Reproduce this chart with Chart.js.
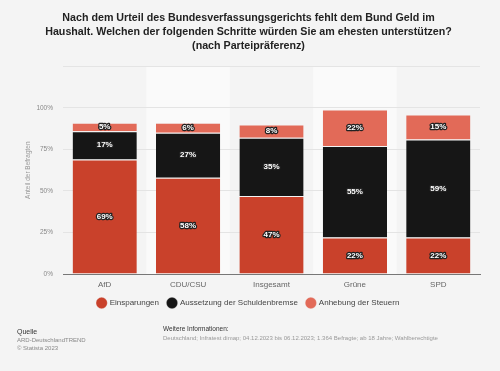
<!DOCTYPE html>
<html>
<head>
<meta charset="utf-8">
<script src="https://cdn.jsdelivr.net/npm/chart.js@4.4.0/dist/chart.umd.min.js"></script>
<style>
  html, body { margin: 0; padding: 0; background: #f4f4f4; }
  #wrap { position: relative; width: 500px; height: 371px; overflow: hidden; font-family: "Liberation Sans", Arial, sans-serif; }
  canvas { position: absolute; left: 0; top: 0; }
  .ft { position: absolute; white-space: nowrap; line-height: 1; }
</style>
</head>
<body>
<div id="wrap">
  <canvas id="c" width="500" height="371"></canvas>
  <div class="ft" style="left:17px;top:328px;font-size:7px;color:#333;">Quelle</div>
  <div class="ft" style="left:17px;top:337px;font-size:6px;color:#888;">ARD-DeutschlandTREND</div>
  <div class="ft" style="left:17px;top:345px;font-size:6px;color:#888;">© Statista 2023</div>
  <div class="ft" style="left:163px;top:326px;font-size:6.5px;color:#333;">Weitere Informationen:</div>
  <div class="ft" style="left:163px;top:335px;font-size:6px;color:#999;">Deutschland; Infratest dimap; 04.12.2023 bis 06.12.2023; 1.364 Befragte; ab 18 Jahre; Wahlberechtigte</div>
</div>
<script>
const categories = ["AfD", "CDU/CSU", "Insgesamt", "Grüne", "SPD"];
const einsparungen = [69, 58, 47, 22, 22];
const aussetzung = [17, 27, 35, 55, 59];
const anhebung = [5, 6, 8, 22, 15];
const seriesNames = ["Einsparungen", "Aussetzung der Schuldenbremse", "Anhebung der Steuern"];
const yTicks = [0, 25, 50, 75, 100];
const titleLines = [
  "Nach dem Urteil des Bundesverfassungsgerichts fehlt dem Bund Geld im",
  "Haushalt. Welchen der folgenden Schritte würden Sie am ehesten unterstützen?",
  "(nach Parteipräferenz)"
];

const FONT = "'Liberation Sans', Arial, sans-serif";

const bandPlugin = {
  id: 'bands',
  beforeDraw(chart) {
    const { ctx, chartArea: a } = chart;
    ctx.save();
    ctx.fillStyle = '#fafafa';
    const w = (a.right - a.left) / categories.length;
    for (let i = 1; i < categories.length; i += 2) {
      ctx.fillRect(a.left + i * w, a.top, w, a.bottom - a.top);
    }
    ctx.restore();
  }
};

const labelPlugin = {
  id: 'vals',
  afterDatasetsDraw(chart) {
    const { ctx } = chart;
    ctx.save();
    ctx.font = "bold 8px " + FONT;
    ctx.textAlign = 'center';
    ctx.textBaseline = 'middle';
    ctx.lineJoin = 'round';
    chart.data.datasets.forEach((ds, di) => {
      const meta = chart.getDatasetMeta(di);
      meta.data.forEach((bar, i) => {
        const v = ds.data[i];
        const yc = (bar.y + bar.base) / 2;
        const t = v + '%';
        ctx.lineWidth = 2.5;
        ctx.strokeStyle = '#222';
        ctx.strokeText(t, bar.x, yc);
        ctx.fillStyle = '#fff';
        ctx.fillText(t, bar.x, yc);
      });
    });
    ctx.restore();
  }
};

const mk = (label, data, color) => ({
  label, data, backgroundColor: color,
  borderColor: '#f4f4f4', borderWidth: { top: 1, bottom: 0, left: 0, right: 0 }, borderSkipped: false,
  categoryPercentage: 1, barPercentage: 0.77
});

new Chart(document.getElementById('c'), {
  type: 'bar',
  data: {
    labels: categories,
    datasets: [
      mk(seriesNames[0], einsparungen, '#c9412b'),
      mk(seriesNames[1], aussetzung, '#161616'),
      mk(seriesNames[2], anhebung, '#e26a58')
    ]
  },
  options: {
    responsive: false,
    animation: false,
    layout: { padding: { left: 17, right: 20, top: 0, bottom: 54 } },
    plugins: {
      title: {
        display: true, text: titleLines, color: '#222',
        font: { family: FONT, size: 10.7, weight: 'bold', lineHeight: 1.32 },
        padding: { top: 11, bottom: 13 }
      },
      legend: {
        position: 'bottom',
        labels: {
          usePointStyle: true, pointStyle: 'circle', boxWidth: 8, boxHeight: 8,
          color: '#444', font: { family: FONT, size: 8 }, padding: 9
        }
      },
      tooltip: { enabled: false }
    },
    scales: {
      x: {
        stacked: true,
        grid: { display: false, drawTicks: false },
        border: { display: true, color: '#777', width: 1 },
        ticks: { color: '#666', font: { family: FONT, size: 8 }, padding: 6, maxRotation: 0, minRotation: 0, autoSkip: false },
        afterFit(s) { s.height = 16; }
      },
      y: {
        stacked: true, min: 0, max: 125,
        afterBuildTicks(s) { s.ticks = [0, 25, 50, 75, 100, 125].map(v => ({ value: v })); },
        grid: { color: '#e4e4e4', drawTicks: false },
        border: { display: false },
        ticks: {
          color: '#888', font: { family: FONT, size: 6.5 }, padding: 10,
          callback: v => yTicks.includes(v) ? v + '%' : ''
        },
        title: { display: true, text: 'Anteil der Befragten', color: '#999', font: { family: FONT, size: 6.5 }, padding: { top: 7, bottom: 0 } },
        afterFit(s) { s.width = 46; }
      }
    }
  },
  plugins: [bandPlugin, labelPlugin]
});
</script>
</body>
</html>
